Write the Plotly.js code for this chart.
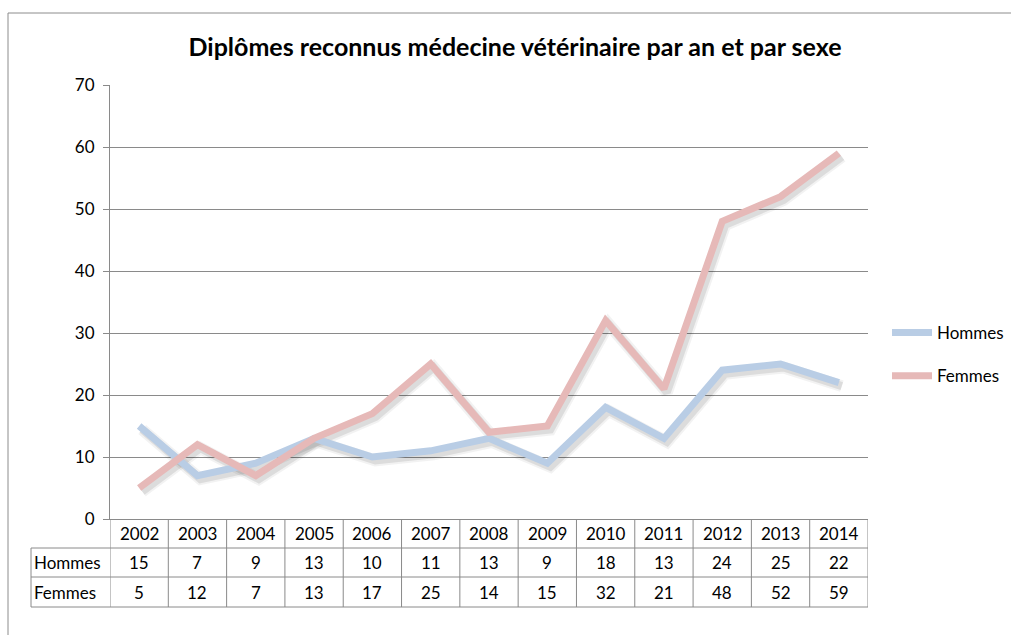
<!DOCTYPE html>
<html>
<head>
<meta charset="utf-8">
<script src="https://cdn.plot.ly/plotly-3.0.1.min.js"></script>
<style>html,body{margin:0;padding:0;background:#fff;}#chart{width:1011px;height:635px;}</style>
</head>
<body>
<div id="chart"></div>
<script>
const years = ['2002','2003','2004','2005','2006','2007','2008','2009','2010','2011','2012','2013','2014'];
const hommes = [15, 7, 9, 13, 10, 11, 13, 9, 18, 13, 24, 25, 22];
const femmes = [5, 12, 7, 13, 17, 25, 14, 15, 32, 21, 48, 52, 59];
const seriesNames = ['Hommes', 'Femmes'];
const yTicks = [0, 10, 20, 30, 40, 50, 60, 70];

const W = 1011, H = 635;
const M = {l: 110, r: 143, t: 85, b: 116, autoexpand: false};
const PW = W - M.l - M.r, PH = H - M.t - M.b;
const FONT = 'Lato, "Noto Sans", sans-serif';
const FS = 17;
const gridCol = '#8a8a8a';
const colH = '#b9cde5', colF = '#e6b9b8';

const px = v => (v - M.l) / PW;      // absolute x pixel -> paper
const dy = v => -v / PH;             // pixels below the x axis -> paper

const xr = [-0.5, years.length - 0.5];
const yr = [0, 70];
const catW = PW / years.length;
const sdx = 3 / catW, sdy = 3.5 * (yr[1] - yr[0]) / PH;

const shadow = (ys, w, a) => ({x: years, y: ys, type: 'scatter', mode: 'lines', xaxis: 'x2', yaxis: 'y2',
  line: {color: 'rgba(0,0,0,' + a + ')', width: w}, showlegend: false, hoverinfo: 'skip'});

const data = [
  {x: years, y: hommes, type: 'scatter', mode: 'lines', xaxis: 'x', yaxis: 'y',
   line: {width: 0}, opacity: 0, showlegend: false, hoverinfo: 'skip'},
  shadow(hommes, 12, 0.05), shadow(femmes, 12, 0.05),
  shadow(hommes, 8, 0.09), shadow(femmes, 8, 0.09),
  {x: years, y: hommes, name: seriesNames[0], type: 'scatter', mode: 'lines', xaxis: 'x3', yaxis: 'y3',
   line: {color: colH, width: 7}, legendgroup: 'h'},
  {x: years, y: femmes, name: seriesNames[1], type: 'scatter', mode: 'lines', xaxis: 'x3', yaxis: 'y3',
   line: {color: colF, width: 7}, legendgroup: 'f'}
];

const shapes = [];
const annotations = [];
const lineStyle = {color: gridCol, width: 1};
shapes.push({type: 'rect', xref: 'paper', yref: 'paper', x0: px(8), x1: px(1030),
  y0: 1 + (M.t - 13) / PH, y1: dy(H + 20 - M.t - PH), line: {color: '#8c8c8c', width: 1}, fillcolor: 'rgba(0,0,0,0)', layer: 'below'});
const rowH = 29;
[rowH, rowH * 2, rowH * 3 + 1].forEach(r => {
  shapes.push({type: 'line', xref: 'paper', yref: 'paper', x0: px(31), x1: 1, y0: dy(r), y1: dy(r), line: lineStyle});
});
for (let i = 0; i <= years.length; i++) {
  shapes.push({type: 'line', xref: 'x', yref: 'paper', x0: i - 0.5, x1: i - 0.5, y0: 0, y1: dy(rowH * 3 + 1), line: lineStyle});
}
shapes.push({type: 'line', xref: 'paper', yref: 'paper', x0: px(31), x1: px(31), y0: dy(rowH), y1: dy(rowH * 3 + 1), line: lineStyle});

const tf = {family: FONT, size: FS, color: '#000'};
years.forEach((yv, i) => {
  annotations.push({xref: 'x', yref: 'paper', x: i, y: dy(rowH * 0.5), text: yv, showarrow: false, font: tf, yanchor: 'middle'});
  annotations.push({xref: 'x', yref: 'paper', x: i, y: dy(rowH * 1.5), text: String(hommes[i]), showarrow: false, font: tf, yanchor: 'middle'});
  annotations.push({xref: 'x', yref: 'paper', x: i, y: dy(rowH * 2.5 + 0.5), text: String(femmes[i]), showarrow: false, font: tf, yanchor: 'middle'});
});
annotations.push({xref: 'paper', yref: 'paper', x: px(32), y: dy(rowH * 1.5), text: seriesNames[0], showarrow: false, font: tf, xanchor: 'left', yanchor: 'middle'});
annotations.push({xref: 'paper', yref: 'paper', x: px(32), y: dy(rowH * 2.5 + 0.5), text: seriesNames[1], showarrow: false, font: tf, xanchor: 'left', yanchor: 'middle'});

const hidden = {visible: false, showgrid: false, zeroline: false, fixedrange: true};
const layout = {
  width: W, height: H,
  margin: M,
  paper_bgcolor: '#fff', plot_bgcolor: '#fff',
  font: {family: FONT, size: FS, color: '#000'},
  title: {text: 'Diplômes reconnus médecine vétérinaire par an et par sexe',
    font: {family: FONT, size: 25, color: '#000', weight: 'bold'},
    xref: 'container', yref: 'container', x: 515 / W, xanchor: 'center', y: 1 - 47 / H, yanchor: 'middle'},
  xaxis: {type: 'category', range: xr, showgrid: false, zeroline: false, showticklabels: false,
    ticks: '', showline: true, linecolor: gridCol, linewidth: 1, fixedrange: true},
  yaxis: {range: yr, tickvals: yTicks, showgrid: true, gridcolor: gridCol, gridwidth: 1, zeroline: false,
    showline: true, linecolor: gridCol, linewidth: 1, ticks: 'outside', ticklen: 6, tickcolor: gridCol,
    tickfont: {family: FONT, size: FS, color: '#000'}, ticklabelstandoff: 5, fixedrange: true, automargin: false},
  xaxis2: Object.assign({type: 'category', overlaying: 'x', range: [xr[0] - sdx, xr[1] - sdx]}, hidden),
  yaxis2: Object.assign({overlaying: 'y', range: [yr[0] + sdy, yr[1] + sdy]}, hidden),
  xaxis3: Object.assign({type: 'category', overlaying: 'x', range: xr}, hidden),
  yaxis3: Object.assign({overlaying: 'y', range: yr}, hidden),
  showlegend: true,
  legend: {x: px(887), xref: 'paper', xanchor: 'left', y: 1 - (315 - M.t) / PH, yanchor: 'top',
    font: {family: FONT, size: FS, color: '#000'}, traceorder: 'grouped', tracegroupgap: 18,
    bgcolor: 'rgba(0,0,0,0)', itemwidth: 40},
  shapes: shapes,
  annotations: annotations
};

Plotly.newPlot('chart', data, layout, {displayModeBar: false, staticPlot: true});
</script>
</body>
</html>
